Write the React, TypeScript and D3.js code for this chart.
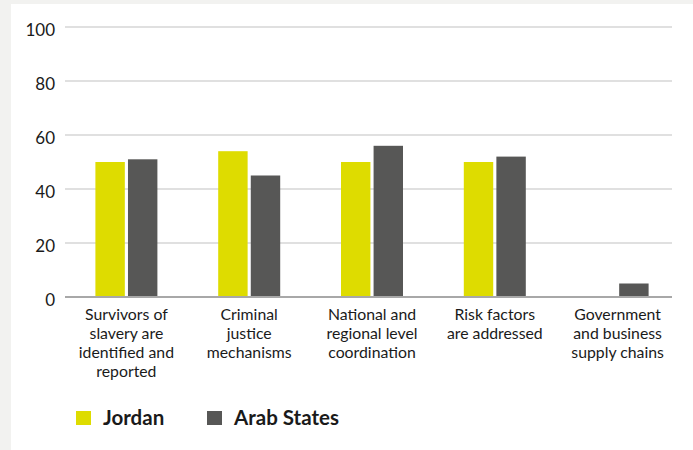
import React from "react";
import * as d3 from "d3";

const categories: string[][] = [
  ["Survivors of", "slavery are", "identified and", "reported"],
  ["Criminal", "justice", "mechanisms"],
  ["National and", "regional level", "coordination"],
  ["Risk factors", "are addressed"],
  ["Government", "and business", "supply chains"],
];
const seriesNames = ["Jordan", "Arab States"];
const jordan = [50, 54, 50, 50, 0];
const arabStates = [51, 45, 56, 52, 5];
const yTicks = [0, 20, 40, 60, 80, 100];
const colors = ["#dedc00", "#575756"];

const W = 693;
const H = 450;
const FONT = "Lato, 'Source Sans Pro', sans-serif";

export default function App() {
  const x = d3
    .scaleBand<number>()
    .domain(d3.range(categories.length))
    .range([65, 679]);
  const inner = d3
    .scaleBand<number>()
    .domain([0, 1])
    .range([x.bandwidth() / 2 - 31, x.bandwidth() / 2 + 31])
    .paddingInner(6 / 62);
  const y = d3.scaleLinear().domain([0, 100]).range([297, 27]);
  const series = [jordan, arabStates];
  const gridX1 = 65;
  const gridX2 = 672;

  return (
    <svg
      width={W}
      height={H}
      style={{ position: "absolute", left: 0, top: 0, display: "block" }}
      fontFamily={FONT}
    >
      <rect x={0} y={0} width={W} height={H} fill="#f2f2f0" />
      <rect x={11} y={4} width={W - 11} height={H - 4} fill="#ffffff" />
      {yTicks.map((t) => (
        <g key={t}>
          {t !== 0 && (
            <line
              x1={gridX1}
              x2={gridX2}
              y1={y(t)}
              y2={y(t)}
              stroke="#d6d6d6"
              strokeWidth={1.3}
            />
          )}
          <text
            x={55}
            y={y(t) + 9}
            textAnchor="end"
            fontSize={17}
            fill="#1a1a1a"
          >
            {t}
          </text>
        </g>
      ))}
      {series.map((vals, si) =>
        vals.map((v, ci) => (
          <rect
            key={`${si}-${ci}`}
            x={(x(ci) ?? 0) + (inner(si) ?? 0)}
            y={y(v)}
            width={inner.bandwidth()}
            height={Math.max(0, y(0) - y(v))}
            fill={colors[si]}
          />
        ))
      )}
      <line
        x1={gridX1}
        x2={gridX2}
        y1={y(0)}
        y2={y(0)}
        stroke="#a8a8a8"
        strokeWidth={2}
      />
      {categories.map((lines, ci) => (
        <text
          key={ci}
          x={(x(ci) ?? 0) + x.bandwidth() / 2}
          textAnchor="middle"
          fontSize={15.8}
          fill="#1a1a1a"
        >
          {lines.map((l, li) => (
            <tspan key={li} x={(x(ci) ?? 0) + x.bandwidth() / 2} y={320 + li * 19}>
              {l}
            </tspan>
          ))}
        </text>
      ))}
      {seriesNames.map((name, si) => {
        const lx = si === 0 ? 76 : 207;
        return (
          <g key={name}>
            <rect x={lx} y={411} width={15} height={14} fill={colors[si]} />
            <text
              x={lx + 27}
              y={425}
              fontSize={20.5}
              fontWeight="bold"
              fill="#1a1a1a"
            >
              {name}
            </text>
          </g>
        );
      })}
    </svg>
  );
}
